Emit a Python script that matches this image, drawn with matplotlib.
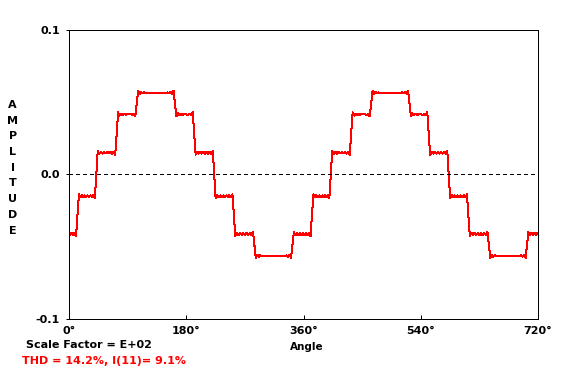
"""Stepped inverter output waveform (two cycles) with harmonic ripple."""

import matplotlib
matplotlib.use('Agg')
import matplotlib.pyplot as plt
import numpy as np

# one cycle of the waveform (angle in degrees, amplitude)
CYCLE_ANGLE = [
    0, 1.5, 3.8, 6.2, 8.5, 10.8,
    15.2, 17.4, 19.7, 21.9, 24.1, 26.3, 28.6, 30.8, 33.0, 35.2, 37.5, 39.7,
    44.1, 46.55, 49.0, 51.4, 53.9, 56.3, 58.8, 61.2, 63.7, 66.1, 68.6, 71.0,
    75.4, 77.7, 80.0, 82.3, 84.6, 87, 92, 94.8, 97.1, 99.4, 101.7,
    106.1, 108.4, 110.7, 113.0, 115.3, 118, 125, 145, 149, 151.3, 153.6,
    155.9, 158.2, 160.5,
    164.9, 167.2, 169.5, 171.8, 174.1, 176.5, 180, 183.1, 185.4, 187.7, 190.0,
    194.4, 196.8, 199.2, 201.6, 204.0, 206.4, 208.7, 211.1, 213.5, 215.9,
    218.3, 220.7,
    225.1, 227.4, 229.8, 232.1, 234.5, 236.8, 239.2, 241.5, 243.9, 246.2,
    248.6, 250.9,
    255.3, 257.8, 260.2, 262.7, 265.2, 267.6, 270.1, 272.5, 275.0, 277.5,
    279.9, 282.4,
    286.8, 289.1, 291.4, 293.7, 296.0, 299, 305, 325, 329.4, 331.7, 334.0,
    336.3, 338.6, 340.9,
    345.3, 347.6, 349.9, 352.3, 354.6, 356.9, 359.2, 360,
]
CYCLE_AMP = [
    -0.0410, -0.0419, -0.0405, -0.0419, -0.0404, -0.0426,
    -0.0137, -0.0158, -0.0144, -0.0157, -0.0145, -0.0157, -0.0145, -0.0157,
    -0.0144, -0.0158, -0.0143, -0.0165,
    0.0165, 0.0143, 0.0158, 0.0145, 0.0157, 0.0146, 0.0156, 0.0146, 0.0157,
    0.0145, 0.0159, 0.0137,
    0.0430, 0.0408, 0.0422, 0.0411, 0.0418, 0.0415, 0.0416, 0.0418, 0.0411,
    0.0421, 0.0402,
    0.0580, 0.0558, 0.0571, 0.0561, 0.0568, 0.0565, 0.0566, 0.0566, 0.0566,
    0.0568, 0.0562, 0.0571, 0.0558, 0.0580,
    0.0402, 0.0423, 0.0410, 0.0421, 0.0412, 0.0417, 0.0416, 0.0413, 0.0420,
    0.0409, 0.0430,
    0.0137, 0.0159, 0.0145, 0.0157, 0.0145, 0.0157, 0.0145, 0.0157, 0.0145,
    0.0158, 0.0144, 0.0165,
    -0.0165, -0.0143, -0.0158, -0.0145, -0.0157, -0.0145, -0.0157, -0.0145,
    -0.0157, -0.0144, -0.0159, -0.0137,
    -0.0426, -0.0404, -0.0419, -0.0405, -0.0418, -0.0406, -0.0418, -0.0406,
    -0.0419, -0.0405, -0.0420, -0.0398,
    -0.0577, -0.0555, -0.0569, -0.0559, -0.0566, -0.0562, -0.0563, -0.0563,
    -0.0563, -0.0566, -0.0559, -0.0569, -0.0555, -0.0577,
    -0.0398, -0.0420, -0.0405, -0.0419, -0.0405, -0.0419, -0.0405, -0.0410,
]
CYCLE_STARTS = [0, 360]

X_TICKS = [0, 180, 360, 540, 720]
X_TICK_LABELS = ['0°', '180°', '360°', '540°', '720°']
Y_TICKS = [-0.1, 0.0, 0.1]
Y_TICK_LABELS = ['-0.1', '0.0', '0.1']

Y_LABEL = 'AMPLITUDE'
X_LABEL = 'Angle'
SCALE_NOTE = 'Scale Factor = E+02'
THD_NOTE = 'THD = 14.2%, I(11)= 9.1%'

ang = np.asarray(CYCLE_ANGLE, dtype=float)
amp = np.asarray(CYCLE_AMP, dtype=float)
x = np.concatenate([ang + CYCLE_STARTS[0], ang[1:] + CYCLE_STARTS[1]])
y = np.concatenate([amp, amp[1:]])

plt.rcParams['font.family'] = 'DejaVu Sans'

fig = plt.figure(figsize=(5.7, 3.8), dpi=100)
ax = fig.add_axes([69 / 570, 1 - 319 / 380, (538 - 69) / 570, (319 - 30) / 380])

ax.plot(x, y, color='#ff0000', lw=0.72, antialiased=False)
ax.axhline(0, color='black', lw=0.72, dashes=(4, 3), antialiased=False)

ax.set_xlim(0, 720)
ax.set_ylim(-0.1, 0.1)

ax.set_xticks(X_TICKS)
ax.set_xticklabels(X_TICK_LABELS, fontsize=8, fontweight='bold')
ax.set_yticks(Y_TICKS)
ax.set_yticklabels(Y_TICK_LABELS, fontsize=8, fontweight='bold')
ax.tick_params(axis='x', direction='in', length=3, width=0.72, pad=5)
ax.tick_params(axis='y', direction='out', length=2.5, width=0.72, pad=4)

for side in ['left', 'right', 'top', 'bottom']:
    ax.spines[side].set_linewidth(0.72)
    ax.spines[side].set_color('black')
    ax.spines[side].set_antialiased(False)

# vertical stacked y label
for i, ch in enumerate(Y_LABEL):
    fig.text(12.7 / 570, 1 - (105 + 15.7 * i) / 380, ch,
             ha='center', va='center', fontsize=8, fontweight='bold')

fig.text(307 / 570, 1 - 347 / 380, X_LABEL, ha='center', va='center',
         fontsize=7.5, fontweight='bold')
fig.text(26 / 570, 1 - 345 / 380, SCALE_NOTE, ha='left', va='center',
         fontsize=8, fontweight='bold')
fig.text(22 / 570, 1 - 361 / 380, THD_NOTE, ha='left', va='center',
         fontsize=8, fontweight='bold', color='#ff0000')

fig.savefig('out.png', dpi=100, facecolor='white')
plt.close(fig)
